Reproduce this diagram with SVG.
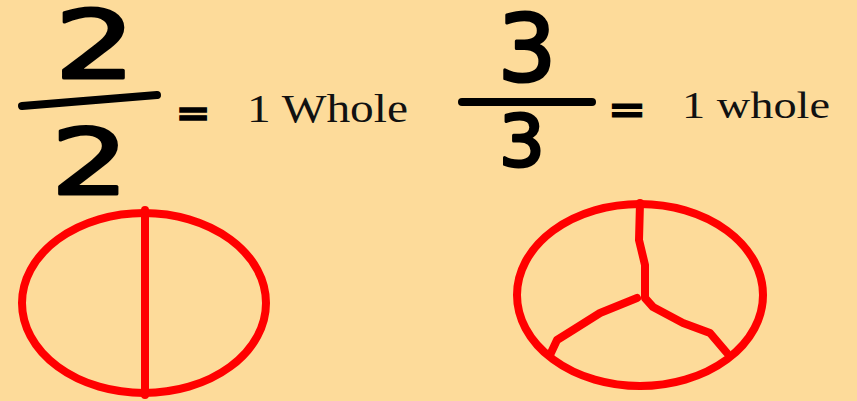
<svg xmlns="http://www.w3.org/2000/svg" width="857" height="401" viewBox="0 0 857 401">
  <style>
    .hand { font-family: "DejaVu Sans", sans-serif; fill: #000; stroke: #000; stroke-width: 3; stroke-linejoin: round; text-anchor: middle; }
    .eq { font-family: "DejaVu Sans", sans-serif; font-weight: bold; fill: #000; stroke: #000; stroke-width: 1.5; text-anchor: middle; }
    .lbl { font-family: "Liberation Serif", "Times New Roman", serif; fill: #111; }
    .bar { stroke: #000; stroke-width: 8; stroke-linecap: round; fill: none; }
    .red { stroke: #FF0000; stroke-width: 8; fill: none; stroke-linecap: round; stroke-linejoin: round; }
  </style>
  <rect width="857" height="401" fill="#FDDB9A"/>

  <g id="fraction-2-2">
    <text class="hand" font-size="94" transform="translate(95,78) scale(1.35,1)">2</text>
    <path class="bar" d="M22,106 L157,95"/>
    <text class="hand" font-size="90" transform="translate(90,194) scale(1.35,1)">2</text>
    <text class="eq" font-size="42" transform="translate(193,125) scale(1,0.85)">=</text>
    <text class="lbl" font-size="39" x="247" y="122" textLength="161" lengthAdjust="spacingAndGlyphs">1 Whole</text>
  </g>

  <g id="fraction-3-3">
    <text class="hand" font-size="92" x="527" y="81">3</text>
    <path class="bar" d="M462,102 L592,102"/>
    <text class="hand" font-size="72" x="522" y="166">3</text>
    <text class="eq" font-size="46" transform="translate(627,122) scale(1,0.8)">=</text>
    <text class="lbl" font-size="38" x="682" y="118" textLength="148" lengthAdjust="spacingAndGlyphs">1 whole</text>
  </g>

  <g id="circle-halves">
    <ellipse class="red" cx="144" cy="303" rx="122" ry="90"/>
    <line class="red" x1="145" y1="210" x2="145" y2="395" stroke-width="9" stroke-linecap="butt"/>
  </g>

  <g id="circle-thirds">
    <ellipse class="red" cx="640" cy="295" rx="123" ry="91"/>
    <path class="red" d="M640,203 L639,240 L645,265 L645,298 L653,307 L683,323 L710,333 L727,353"/>
    <path class="red" d="M637,298 L600,313 L573,330 L557,340 L550,355"/>
  </g>
</svg>
